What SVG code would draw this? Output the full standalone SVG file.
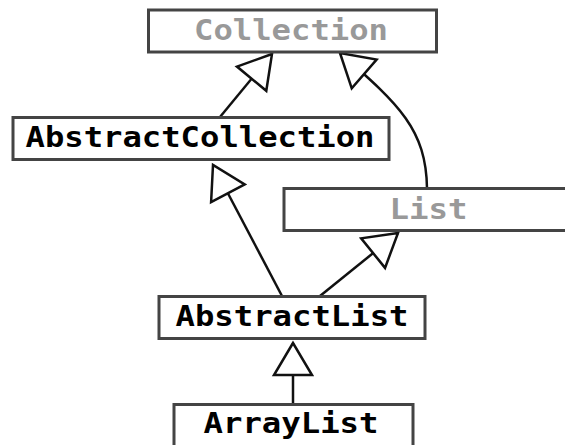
<svg xmlns="http://www.w3.org/2000/svg" width="565" height="445" viewBox="0 0 565 445">
<defs>
<style>
.box{fill:#fff;stroke:#444;stroke-width:3}
.t{font-family:"DejaVu Sans Mono","Liberation Mono",monospace;font-weight:bold;font-size:27.5px;text-anchor:middle;fill:#000}
.g{fill:#999}
.e{fill:none;stroke:#111;stroke-width:2.5}
</style>
<marker id="tri" markerUnits="userSpaceOnUse" markerWidth="40" markerHeight="44" viewBox="-36 -22 40 44" refX="0" refY="0" orient="auto" overflow="visible">
<path d="M0,0 L-32,-19 L-32,19 Z" fill="#fff" stroke="#111" stroke-width="2.5" stroke-linejoin="miter"/>
</marker>
</defs>
<rect width="565" height="445" fill="#fff"/>
<g id="connectors">
<path class="e" d="M220,117 L272,54" marker-end="url(#tri)"/>
<path class="e" d="M427,188 C426,130 400,105 340,53" marker-end="url(#tri)"/>
<path class="e" d="M282,296 L213,165" marker-end="url(#tri)"/>
<path class="e" d="M320,296 L398,233" marker-end="url(#tri)"/>
<path class="e" d="M293,404 L293,343" marker-end="url(#tri)"/>
</g>
<g id="Collection">
<rect class="box" x="148.5" y="10" width="288" height="42"/>
<text class="t g" x="291" y="40" textLength="194" lengthAdjust="spacingAndGlyphs">Collection</text>
</g>
<g id="AbstractCollection">
<rect class="box" x="13" y="117.5" width="376" height="42"/>
<text class="t" x="200" y="147" textLength="349" lengthAdjust="spacingAndGlyphs">AbstractCollection</text>
</g>
<g id="List">
<rect class="box" x="284" y="188.5" width="290" height="42"/>
<text class="t g" x="428.5" y="219" textLength="78" lengthAdjust="spacingAndGlyphs">List</text>
</g>
<g id="AbstractList">
<rect class="box" x="159" y="296.5" width="266" height="42"/>
<text class="t" x="292" y="326" textLength="233" lengthAdjust="spacingAndGlyphs">AbstractList</text>
</g>
<g id="ArrayList">
<rect class="box" x="174" y="404.5" width="239" height="42"/>
<text class="t" x="291" y="433" textLength="175" lengthAdjust="spacingAndGlyphs">ArrayList</text>
</g>
</svg>
